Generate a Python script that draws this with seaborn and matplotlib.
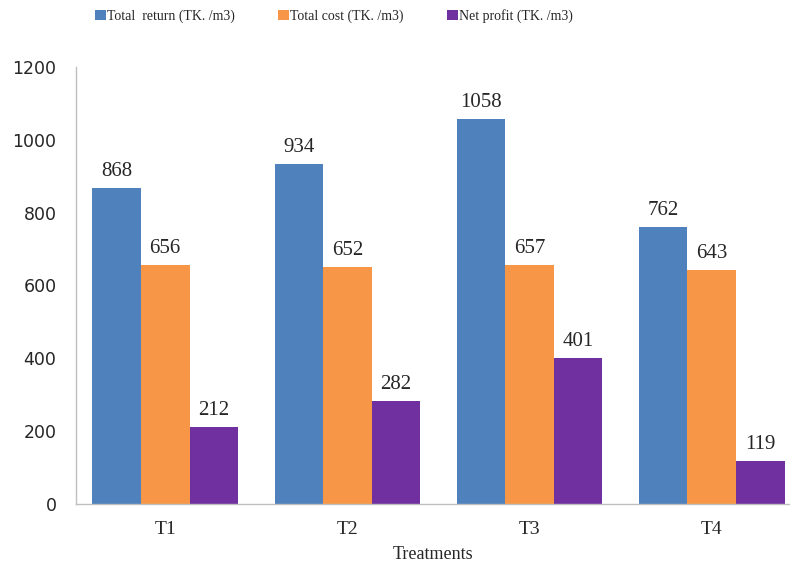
import matplotlib
matplotlib.use("Agg")
import matplotlib.pyplot as plt
import seaborn as sns
import pandas as pd

treatments = ["T1", "T2", "T3", "T4"]
total_return = [868, 934, 1058, 762]
total_cost = [656, 652, 657, 643]
net_profit = [212, 282, 401, 119]
series_names = ["Total  return (TK. /m3)", "Total cost (TK. /m3)", "Net profit (TK. /m3)"]
colors = ["#4F81BD", "#F79646", "#7030A0"]

df = pd.DataFrame({
    "Treatment": treatments * 3,
    "Series": [series_names[0]] * 4 + [series_names[1]] * 4 + [series_names[2]] * 4,
    "Value": total_return + total_cost + net_profit,
})

sns.set_style("white")
plt.rcParams["font.family"] = ["Liberation Serif", "DejaVu Serif"]

fig = plt.figure(figsize=(7.9, 5.63), dpi=100)
ax = fig.add_axes([76 / 790, (563 - 504) / 563, 714 / 790, (504 - 67) / 563])

sns.barplot(data=df, x="Treatment", y="Value", hue="Series", palette=colors,
            width=0.8, saturation=1, linewidth=0, ax=ax, legend=True)

for c in ax.containers:
    ax.bar_label(c, fmt="%d", padding=5, fontsize=15)

ax.set_ylim(0, 1200)
ax.set_yticks(range(0, 1201, 200))
ax.set_xlim(-0.49, 3.43)
for lbl in ax.get_yticklabels():
    lbl.set_family("DejaVu Sans")
    lbl.set_fontsize(12.5)
ax.tick_params(axis="x", labelsize=14, length=0, pad=12)
ax.tick_params(axis="y", length=0, pad=14)
ax.set_xlabel("Treatments", fontsize=13, labelpad=6)
ax.set_ylabel("")

for s in ["top", "right"]:
    ax.spines[s].set_visible(False)
for s in ["left", "bottom"]:
    ax.spines[s].set_color("#BFBFBF")
    ax.spines[s].set_linewidth(1)

handles, labels = ax.get_legend_handles_labels()
ax.get_legend().remove()
fig.legend(handles, labels, loc="upper left", bbox_to_anchor=(82 / 790, 1.006), ncol=3,
           frameon=False, fontsize=10, handlelength=0.8, handleheight=0.8,
           handletextpad=0.1, columnspacing=3.1)

fig.savefig("out.png", dpi=100)
